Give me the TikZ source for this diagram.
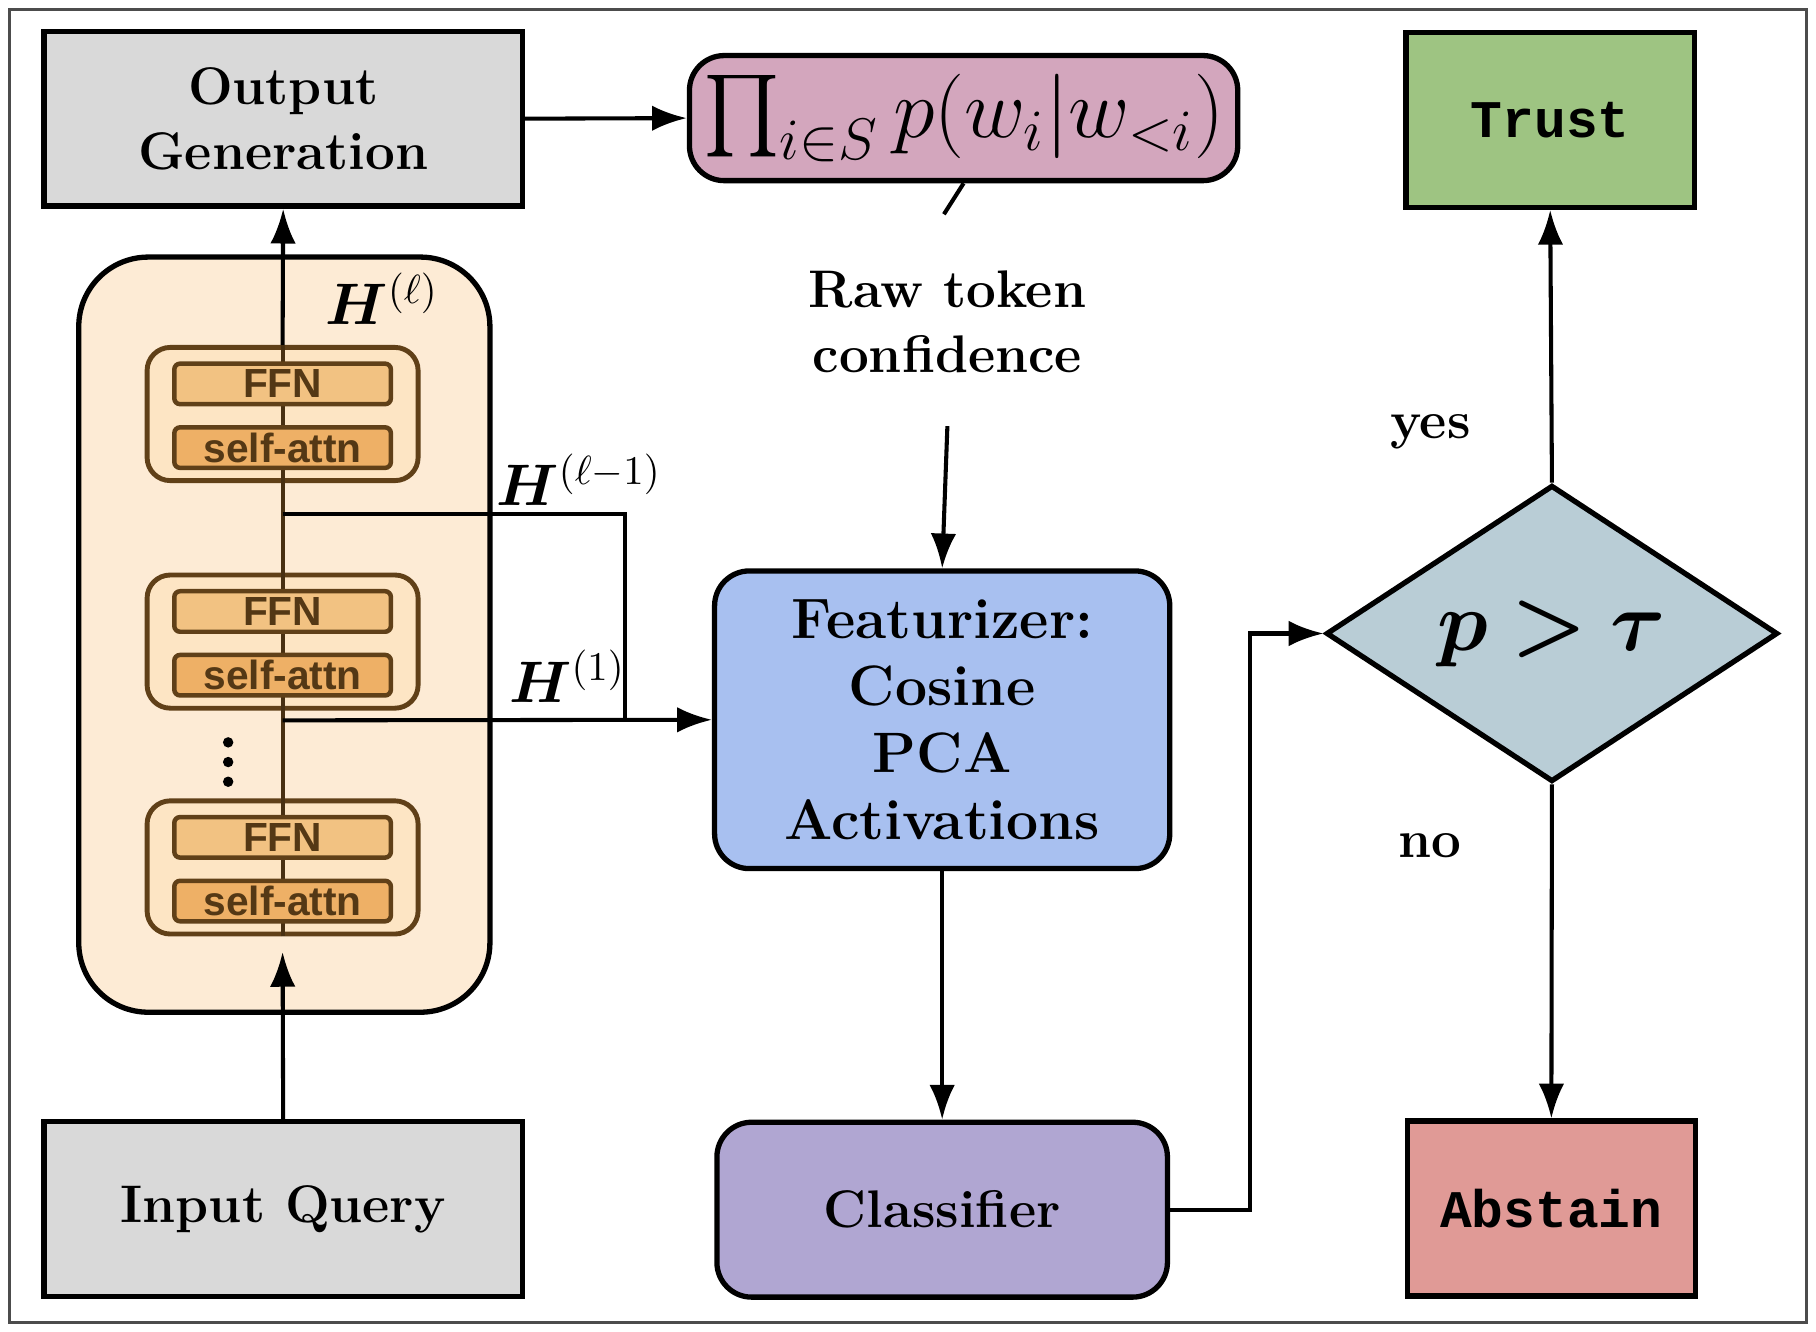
\documentclass[tikz,border=0pt]{standalone}
\usepackage{amsmath}
\usepackage{amssymb}
\usepackage{bm}
\usepackage{fontspec}
\setsansfont{Liberation Sans}
\setmonofont{Liberation Mono}
\usepackage{tikz}
\usetikzlibrary{shapes.geometric, arrows.meta, positioning, calc}
\definecolor{colGray}{RGB}{217, 217, 217}
\definecolor{colPink}{RGB}{211, 166, 189}
\definecolor{colGreen}{RGB}{158, 196, 130}
\definecolor{colCream}{RGB}{253, 235, 213}
\definecolor{colBlock}{RGB}{253, 229, 196}
\definecolor{colFFN}{RGB}{242, 194, 130}
\definecolor{colAttn}{RGB}{238, 176, 102}
\definecolor{colEdge}{RGB}{120, 80, 30}
\definecolor{colBlue}{RGB}{168, 192, 240}
\definecolor{colPurple}{RGB}{176, 166, 210}
\definecolor{colSlate}{RGB}{185, 205, 214}
\definecolor{colRed}{RGB}{224, 154, 150}

\tikzset{
    box/.style={draw, line width=1.3pt, minimum width=4.13cm, minimum height=1.51cm,
        align=center, font=\fontsize{13}{16}\selectfont\bfseries},
    rbox/.style={box, rounded corners=0.3cm},
    layer/.style={draw=colEdge!80!black, line width=1.2pt, fill=colBlock,
        rounded corners=0.2cm, minimum width=2.34cm, minimum height=1.15cm},
    sub/.style={draw=colEdge!80!black, line width=1.1pt, rounded corners=0.05cm,
        minimum width=1.87cm, minimum height=0.35cm, inner sep=0pt,
        font=\sffamily\fontsize{10}{10}\selectfont\bfseries, text=colEdge!70!black},
    tbox/.style={box, minimum width=2.49cm, font=\ttfamily\fontsize{13}{16}\selectfont\bfseries},
    conn/.style={line width=1pt, -{Latex[length=3mm,width=2.2mm]}},
    plain/.style={line width=1pt},
    lab/.style={font=\fontsize{13}{16}\selectfont\bfseries, align=center}
}

\begin{document}
\begin{tikzpicture}
    \useasboundingbox (0,0) rectangle (15.68,11.5);
    \draw[line width=0.8pt, black!70] (0.08,0.08) rectangle (15.6,11.42);

    % --- top row ---
    \node[box, fill=colGray] (og) at (2.445,10.475) {Output\\Generation};
    \node[rbox, fill=colPink, minimum width=4.12cm, minimum height=1.08cm] (prod) at (8.32,10.48)
        {\fontsize{20}{24}\selectfont $\textstyle\prod_{i\in S} p(w_i|w_{<i})$};
    \node[tbox, fill=colGreen] (trust) at (13.385,10.465) {Trust};

    % --- transformer stack ---
    \node[draw, line width=1.3pt, fill=colCream, rounded corners=0.6cm,
        minimum width=3.55cm, minimum height=6.52cm] (stack) at (2.455,6.02) {};
    \node[layer] (l1) at (2.44,7.925) {};
    \node[layer] (l2) at (2.44,5.96) {};
    \node[layer] (l3) at (2.44,4.01) {};
    \draw[plain, colEdge!60!black] (l3.south) -- (l1.north);
    \foreach \n in {l1, l2, l3} {
        \node[sub, fill=colFFN] (\n f) at ($(\n)+(0,0.26)$) {FFN};
        \node[sub, fill=colAttn] (\n a) at ($(\n)+(0,-0.29)$) {self-attn};
    }
    \foreach \y in {4.75, 4.92, 5.09} {
        \fill (1.97,\y) circle (0.045);
    }
    \node[font=\fontsize{14}{16}\selectfont] (hl) at (3.3,8.92) {$\bm{H}^{(\ell)}$};
    \node[font=\fontsize{14}{16}\selectfont] (hlm) at (5.0,7.36) {$\bm{H}^{(\ell-1)}$};
    \node[font=\fontsize{14}{16}\selectfont] (hone) at (4.9,5.66) {$\bm{H}^{(1)}$};

    % --- middle column ---
    \node[lab] (raw) at (8.18,8.72) {Raw token\\confidence};
    \node[rbox, fill=colBlue, minimum width=3.93cm, minimum height=2.57cm,
        font=\fontsize{14}{16.5}\selectfont\bfseries] (feat) at (8.135,5.285)
        {Featurizer:\\Cosine\\PCA\\Activations};
    \node[rbox, fill=colPurple, minimum width=3.89cm] (cls) at (8.135,1.055) {Classifier};
    \node[box, fill=colGray] (iq) at (2.445,1.06) {Input Query};

    % --- decision ---
    \node[diamond, draw, line width=1.3pt, fill=colSlate, inner sep=0pt,
        minimum width=3.9cm, minimum height=2.56cm,
        font=\sffamily\fontsize{20}{20}\selectfont\bfseries] (dec) at (13.4,6.03) {$\bm{p>\tau}$};
    \node[tbox, fill=colRed] (abst) at (13.395,1.065) {Abstain};
    \node[lab] (yes) at (12.35,7.77) {yes};
    \node[lab] (no) at (12.35,4.2) {no};

    % --- connectors ---
    \coordinate (tapA) at (2.44,7.06);
    \coordinate (tapB) at (2.44,5.28);
    \coordinate (join) at (5.40,5.28);
    \coordinate (stin) at (2.44,3.28);
    \coordinate (rawtop) at (8.15,9.65);
    \coordinate (rawbot) at (8.18,7.82);
    \draw[conn] (l1.north) -- (og.south);
    \draw[conn] (iq.north) -- (stin);
    \draw[plain] (tapA) -| (join);
    \draw[conn] (tapB) -- (feat.west);
    \draw[conn] (og.east) -- (prod.west);
    \draw[plain] (prod.south) -- (rawtop);
    \draw[conn] (rawbot) -- (feat.north);
    \draw[conn] (feat.south) -- (cls.north);
    \draw[conn] (cls.east) -- ++(0.69,0) |- (dec.west);
    \draw[conn] (dec.north) -- (trust.south);
    \draw[conn] (dec.south) -- (abst.north);
\end{tikzpicture}
\end{document}
